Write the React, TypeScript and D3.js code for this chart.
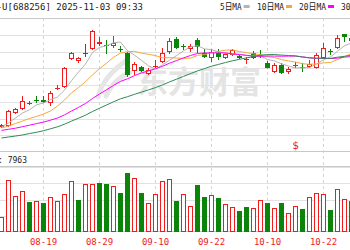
import React from 'react';
import * as d3 from 'd3';

const title = '寒武纪-U[688256] 2025-11-03 09:33';
const volLabel = '成交量: 7963';
const legendLabels = ['5日MA', '10日MA', '20日MA', '30日MA'];

const dates = [
  '08-11','08-12','08-13','08-14','08-15','08-18','08-19','08-20','08-21','08-22',
  '08-25','08-26','08-27','08-28','08-29','09-01','09-02','09-03','09-04','09-05',
  '09-08','09-09','09-10','09-11','09-12','09-15','09-16','09-17','09-18','09-19',
  '09-22','09-23','09-24','09-25','09-26','09-29','09-30','10-09','10-10','10-13',
  '10-14','10-15','10-16','10-17','10-20','10-21','10-22','10-23','10-24','10-27',
  '10-28'];
const tickDates = ['08-19', '08-29', '09-10', '09-22', '10-10', '10-22'];

const open = [650,660,790,830,890,923,920,890,1040,1050, 1330,1310,1393,1430,1480,1473,1460,1433,1390,1210,
  1250,1180,1257,1300,1400,1530,1458,1430,1520,1390, 1340,1390,1340,1370,1360,1332,1390,1373,1290,1200,
  1270,1200,1267,1253,1250,1240,1340,1413,1440,1580, 1540];
const high = [680,820,840,960,910,960,960,1010,1070,1250, 1400,1350,1480,1620,1550,1520,1560,1460,1400,1300,
  1260,1240,1320,1440,1540,1550,1480,1480,1540,1430, 1430,1430,1390,1430,1370,1350,1410,1420,1310,1290,
  1290,1250,1300,1290,1320,1390,1490,1430,1570,1580, 1550];
const low = [640,650,780,820,870,890,890,860,1020,1040, 1320,1290,1350,1420,1460,1380,1440,1400,1150,1170,
  1200,1170,1240,1290,1380,1430,1420,1400,1390,1340, 1300,1320,1330,1360,1330,1280,1330,1340,1235,1190,
  1180,1180,1240,1200,1240,1235,1335,1370,1430,1500, 1500];
const close = [670,810,825,910,893,920,903,990,1043,1240, 1390,1340,1390,1610,1500,1470,1490,1430,1170,1280,
  1210,1220,1260,1390,1510,1440,1455,1460,1450,1350, 1400,1350,1380,1420,1340,1335,1340,1370,1240,1270,
  1190,1230,1270,1250,1280,1370,1440,1410,1540,1550, 1510];
const prevClose = 650;
const volume = [1850,6400,4430,5040,3690,3810,3570,4300,3810,4670, 6270,3940,5900,5900,6030,5900,5660,4800,7260,6640,
  4800,3570,4670,6270,6520,3810,4670,3200,5780,4300, 4550,4180,3440,3080,2580,3080,2950,3940,3570,2950,
  3570,2340,3200,2830,4300,4800,4670,2710,5290,4060, 3810];

const ma5 = [650,690,740,790,822,872,890,923,950,1019, 1113,1200,1280,1394,1446,1462,1492,1500,1412,1368,
  1316,1262,1228,1272,1318,1364,1411,1451,1463,1431, 1423,1402,1386,1380,1378,1365,1363,1361,1325,1311,
  1282,1260,1240,1242,1244,1280,1322,1350,1408,1462, 1490];
const ma10 = [640,660,685,710,735,755,780,810,860,920, 992,1045,1102,1172,1233,1288,1346,1390,1403,1407,
  1389,1377,1364,1342,1343,1340,1336,1339,1367,1374, 1393,1406,1418,1421,1404,1394,1382,1373,1352,1344,
  1323,1311,1300,1283,1277,1281,1291,1295,1325,1353, 1385];
const ma20 = [616,627,638,653,668,684,699,718,740,771, 810,846,885,935,980,1022,1066,1106,1132,1164,
  1191,1211,1233,1257,1288,1314,1341,1365,1385,1391, 1391,1392,1391,1382,1374,1367,1359,1356,1360,1359,
  1358,1359,1359,1352,1341,1337,1337,1334,1339,1349, 1354];
const ma30 = [540,550,560,570,585,597,613,632,652,678, 709,738,768,805,838,870,902,932,953,977,
  999,1021,1044,1071,1101,1128,1156,1184,1211,1234, 1258,1276,1295,1312,1327,1341,1355,1368,1374,1375,
  1369,1365,1361,1349,1342,1338,1337,1336,1348,1357, 1367];
const markerDate = '10-16';

const RED = '#f01c1c';
const GREEN = '#0a850a';
const MA_COLORS = ['#b4b4b4', '#f5a83a', '#ff00ff', '#2e8b57'];
const FONT = "'DejaVu Sans Mono', 'Noto Sans CJK SC', monospace";

export default function App() {
  const W = 350, H = 250;
  const x = d3.scaleLinear().domain([0, 50]).range([1.5, 351.5]);
  const y = d3.scaleLinear().domain([400, 1740]).range([152, 18]);
  const yv = d3.scaleLinear().domain([0, 8000]).range([232, 167]);
  const crisp = (v: number) => Math.round(v) + 0.5;

  const priceGrid = d3.range(9).map(i => 400 + i * (1340 / 8));
  const volGrid = yv.ticks(4);
  const line = d3.line<number>().x((_, i) => x(i)).y(d => y(d));
  const mas = [ma5, ma10, ma20, ma30];
  const legendStarts = [220, 257, 299, 341];
  const mi = dates.indexOf(markerDate);

  return (
    <svg width={W} height={H} style={{ position: 'absolute', left: 0, top: 0, background: '#fff' }}>
      <rect width={W} height={H} fill="#fff" />
      {/* price grid */}
      {priceGrid.map((p, i) => (
        <line key={'pg' + i} x1={0} x2={W} y1={crisp(y(p)) - (i === 0 ? 1 : 0)} y2={crisp(y(p)) - (i === 0 ? 1 : 0)}
          stroke={i === 0 || i === 8 ? '#c8c8c8' : '#e2e2e2'} strokeWidth={1} />
      ))}
      {/* volume label band lower border */}
      <line x1={0} x2={W} y1={166.5} y2={166.5} stroke="#c8c8c8" />
      {volGrid.map((v, i) => (
        <line key={'vg' + i} x1={0} x2={W} y1={crisp(yv(v)) - (v === 0 ? 1 : 0)} y2={crisp(yv(v)) - (v === 0 ? 1 : 0)}
          stroke={v === 0 ? '#c8c8c8' : '#e2e2e2'} />
      ))}
      {/* vertical dashed grid */}
      {tickDates.map(d => {
        const xi = Math.floor(x(dates.indexOf(d))) + 0.5;
        return <line key={'vd' + d} x1={xi} x2={xi} y1={18} y2={231} stroke="#d4d4d4" strokeDasharray="3,3" />;
      })}

      {/* watermark */}
      <g fill="none" stroke="#e6e6e6" strokeWidth={5} strokeLinecap="round">
        <path d="M 98 97 C 101 84, 110 72, 127 60" />
        <path d="M 106 96 C 110 86, 118 78, 130 72" />
      </g>
      <text x={137} y={93} fontSize={31} fontWeight={700} fill="#e4e4e4"
        fontFamily="'Noto Sans CJK SC', sans-serif">东方财富</text>

      {/* candles */}
      {close.map((c, i) => {
        const o = open[i];
        const up = c >= o;
        const cx = x(i);
        const color = up ? RED : GREEN;
        const top = Math.round(y(Math.max(o, c)));
        const bot = Math.round(y(Math.min(o, c)));
        const h = bot - top;
        return (
          <g key={'c' + i}>
            <line x1={cx} x2={cx} y1={y(high[i])} y2={y(low[i])} stroke={color} />
            {h < 2 ? (
              <rect x={cx - 2.5} y={top} width={5} height={1} fill={color} />
            ) : up ? (
              <rect x={cx - 2} y={top + 0.5} width={4} height={h - 1} fill="#fff" stroke={color} />
            ) : (
              <rect x={cx - 2.5} y={top} width={5} height={h} fill={color} />
            )}
          </g>
        );
      })}

      {/* MA lines */}
      {mas.map((m, k) => (
        <path key={'ma' + k} d={line(m) || ''} fill="none" stroke={MA_COLORS[k]} strokeWidth={1} />
      ))}

      {/* event marker */}
      <text x={x(mi)} y={149} fontSize={11} fill={RED} textAnchor="middle" fontFamily={FONT}>$</text>

      {/* volume bars */}
      {volume.map((v, i) => {
        const pc = i === 0 ? prevClose : close[i - 1];
        const up = close[i] >= pc;
        const cx = x(i);
        const top = Math.round(yv(v));
        const bot = 232;
        return up ? (
          <rect key={'v' + i} x={cx - 2} y={top + 0.5} width={4} height={bot - top - 1} fill="#fff" stroke={RED} />
        ) : (
          <rect key={'v' + i} x={cx - 2.5} y={top} width={5} height={bot - top} fill={GREEN} />
        );
      })}

      {/* title & legend */}
      <text x={143} y={10} fontSize={9} fill="#222" textAnchor="end" fontFamily={FONT}>{title}</text>
      {legendLabels.map((l, k) => {
        const len = l.length * 5.4;
        return (
          <g key={'lg' + k}>
            <text x={legendStarts[k]} y={10} fontSize={9} fill="#222" fontFamily={FONT}
              textLength={len} lengthAdjust="spacingAndGlyphs">{l}</text>
            <rect x={legendStarts[k] + len + 2} y={5} width={6} height={3} fill={MA_COLORS[k]} />
          </g>
        );
      })}

      {/* volume label */}
      <text x={27} y={163} fontSize={8} fill="#222" textAnchor="end" fontFamily={FONT}>{volLabel}</text>

      {/* date labels */}
      {tickDates.map(d => (
        <text key={'dl' + d} x={x(dates.indexOf(d))} y={245} fontSize={9} fill={RED} textAnchor="middle" fontFamily={FONT}>{d}</text>
      ))}
    </svg>
  );
}
